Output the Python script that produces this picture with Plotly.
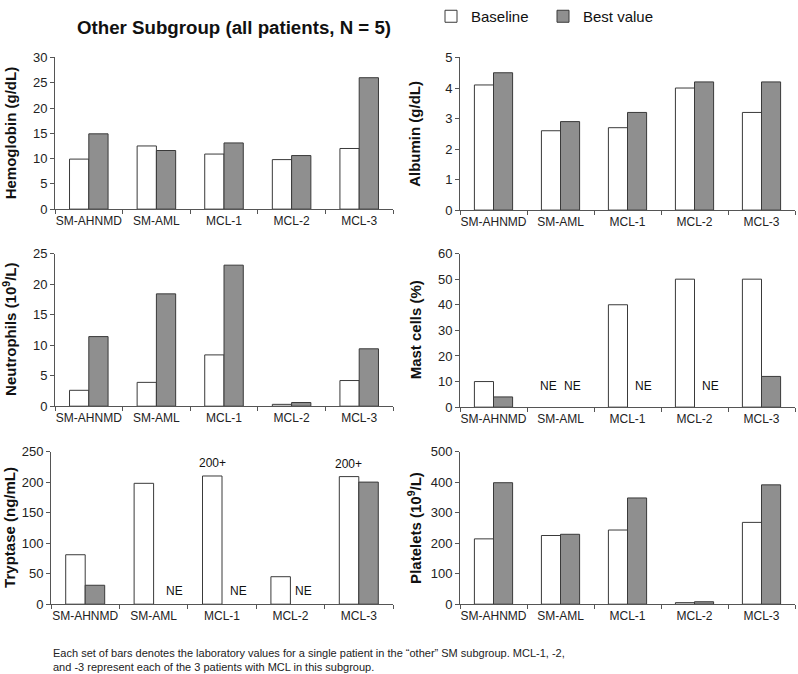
import plotly.graph_objects as go

# ---------------- data ----------------
patients = ["SM-AHNMD", "SM-AML", "MCL-1", "MCL-2", "MCL-3"]
series_names = ["Baseline", "Best value"]

hemoglobin_baseline = [9.9, 12.5, 10.9, 9.8, 12.0]
hemoglobin_best = [14.9, 11.6, 13.1, 10.6, 26.0]
albumin_baseline = [4.1, 2.6, 2.7, 4.0, 3.2]
albumin_best = [4.5, 2.9, 3.2, 4.2, 4.2]
neutrophils_baseline = [2.6, 3.9, 8.4, 0.3, 4.2]
neutrophils_best = [11.4, 18.4, 23.1, 0.6, 9.4]
mast_baseline = [10, None, 40, 50, 50]
mast_best = [4, None, None, None, 12]
tryptase_baseline = [81, 198, 210, 45, 209]
tryptase_best = [31, None, None, None, 200]
platelets_baseline = [214, 225, 243, 5, 268]
platelets_best = [398, 229, 348, 8, 391]

# (panel, patient, series index) of values not evaluated
ne_labels = [("mast", "SM-AML", 0), ("mast", "SM-AML", 1), ("mast", "MCL-1", 1),
             ("mast", "MCL-2", 1), ("tryptase", "SM-AML", 1), ("tryptase", "MCL-1", 1),
             ("tryptase", "MCL-2", 1)]
# (panel, patient, series index, text) for censored values
over_labels = [("tryptase", "MCL-1", 0, "200+"), ("tryptase", "MCL-3", 0, "200+")]

title_text = "Other Subgroup (all patients, N = 5)"
footnote = ("Each set of bars denotes the laboratory values for a single patient in the \u201cother\u201d SM subgroup. MCL-1, -2,<br>"
            "and -3 represent each of the 3 patients with MCL in this subgroup.")

# ---------------- layout geometry / styling ----------------
W, H = 798, 674
FONT = "Liberation Sans, Arial, Helvetica, sans-serif"
panels = [
    # key, y title, baseline, best, ymax, dtick, (x0,x1,ytop,ybottom) in px, title x px
    ("hemoglobin", "Hemoglobin (g/dL)", hemoglobin_baseline, hemoglobin_best, 30, 5, (55, 393, 44, 201), 10),
    ("albumin", "Albumin (g/dL)", albumin_baseline, albumin_best, 5, 1, (460, 795, 44, 202), 415),
    ("neutrophils", "Neutrophils (10<sup>9</sup>/L)", neutrophils_baseline, neutrophils_best, 25, 5, (55, 393, 247, 405), 10),
    ("mast", "Mast cells (%)", mast_baseline, mast_best, 60, 10, (460, 795, 247, 406), 415),
    ("tryptase", "Tryptase (ng/mL)", tryptase_baseline, tryptase_best, 250, 50, (51, 393, 452, 610), 10),
    ("platelets", "Platelets (10<sup>9</sup>/L)", platelets_baseline, platelets_best, 500, 100, (460, 795, 452, 610), 415),
]
# label nudges in px (x, y) relative to the bar position
ne_nudge = {("mast", "SM-AML", 0): (-2, 21), ("mast", "SM-AML", 1): (2, 21),
            ("mast", "MCL-1", 1): (6, 21), ("mast", "MCL-2", 1): (6, 21),
            ("tryptase", "SM-AML", 1): (11, 13), ("tryptase", "MCL-1", 1): (6, 13),
            ("tryptase", "MCL-2", 1): (3, 13)}

colors = ["#ffffff", "#8f8f8f"]
line_color = "#3a3a3a"
axis_color = "#555555"

fig = go.Figure()
layout_axes = {}
annotations = []
panel_axis = {}

for i, (key, ytitle, base, best, ymax, dtick, (x0, x1, yt, yb), tx) in enumerate(panels):
    n = "" if i == 0 else str(i + 1)
    xa, ya = "x" + n, "y" + n
    panel_axis[key] = (xa, ya)
    for s, vals in enumerate([base, best]):
        fig.add_trace(go.Bar(
            x=patients, y=vals, name=series_names[s],
            marker=dict(color=colors[s], line=dict(color=line_color, width=1)),
            xaxis=xa, yaxis=ya, showlegend=(i == 0), legendgroup=series_names[s],
            offsetgroup=str(s),
        ))
    layout_axes["xaxis" + n] = dict(
        domain=[x0 / W, x1 / W], anchor=ya, type="category",
        showline=True, linecolor=axis_color, linewidth=1,
        ticks="outside", tickson="boundaries", ticklen=4, tickcolor=axis_color,
        tickangle=0,
        tickfont=dict(size=12, color="#222222", family=FONT),
        showgrid=False, zeroline=False, fixedrange=True,
    )
    layout_axes["yaxis" + n] = dict(
        domain=[1 - yb / H, 1 - yt / H], anchor=xa, range=[0, ymax], dtick=dtick,
        showline=True, linecolor=axis_color, linewidth=1,
        ticks="outside", ticklen=4, tickcolor=axis_color,
        tickfont=dict(size=13, color="#222222", family=FONT),
        showgrid=False, zeroline=False, fixedrange=True,
    )
    annotations.append(dict(
        text="<b>" + ytitle + "</b>", xref="paper", yref="paper",
        x=tx / W, y=1 - (yt + yb) / 2 / H, textangle=-90, showarrow=False,
        xanchor="center", yanchor="middle",
        font=dict(size=15, color="#111111", family=FONT),
    ))

# NE labels
for lab in ne_labels:
    key, pat, s = lab
    xa, ya = panel_axis[key]
    dx, dy = ne_nudge[lab]
    annotations.append(dict(
        text="NE", x=pat, y=0, xref=xa, yref=ya, showarrow=False,
        xshift=(-10 if s == 0 else 10) + dx, yshift=dy,
        xanchor="center", yanchor="middle",
        font=dict(size=12, color="#111111", family=FONT),
    ))

# 200+ labels
tryptase_series = [tryptase_baseline, tryptase_best]
for key, pat, s, txt in over_labels:
    xa, ya = panel_axis[key]
    val = tryptase_series[s][patients.index(pat)]
    annotations.append(dict(
        text=txt, x=pat, y=val, xref=xa, yref=ya, showarrow=False,
        xshift=(-10 if s == 0 else 10), yshift=4,
        xanchor="center", yanchor="bottom",
        font=dict(size=12, color="#111111", family=FONT),
    ))

# title
annotations.append(dict(
    text="<b>" + title_text + "</b>", xref="paper", yref="paper",
    x=234 / W, y=1 - 13 / H, showarrow=False, xanchor="center", yanchor="middle",
    font=dict(size=18.7, color="#111111", family=FONT),
))
# footnote
annotations.append(dict(
    text=footnote, xref="paper", yref="paper", x=51 / W, y=1 - 652 / H,
    showarrow=False, xanchor="left", yanchor="top", align="left",
    font=dict(size=11, color="#222222", family=FONT),
))

fig.update_layout(
    width=W, height=H, margin=dict(l=0, r=0, t=0, b=0),
    paper_bgcolor="white", plot_bgcolor="white",
    barmode="group", bargap=0.43, bargroupgap=0,
    font=dict(family=FONT, color="#222222"),
    showlegend=True,
    legend=dict(orientation="h", x=431 / W, y=1 + 16 / H, xanchor="left", yanchor="top",
                font=dict(size=15, family=FONT, color="#111111"),
                bgcolor="rgba(0,0,0,0)", borderwidth=0, itemclick=False,
                traceorder="normal", tracegroupgap=0, entrywidth=67),
    annotations=annotations,
    **layout_axes,
)

fig.write_html("out.html", config={"displayModeBar": False},
               post_script="document.body.style.margin='0';")
